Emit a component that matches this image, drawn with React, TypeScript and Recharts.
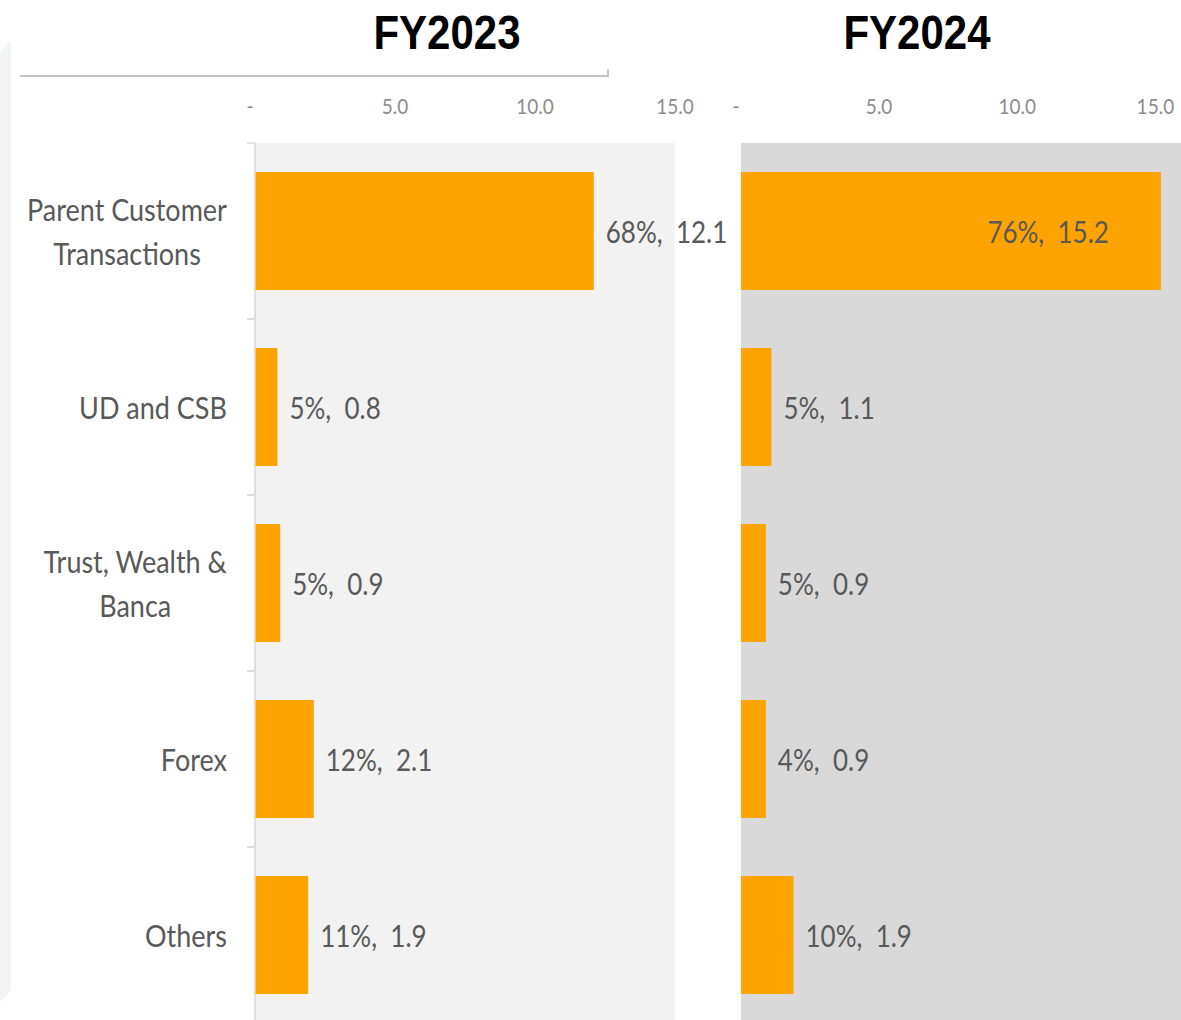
import React from "react";
import { BarChart, Bar, XAxis, YAxis, CartesianGrid, LabelList } from "recharts";

// categories top to bottom, "\n" marks the line break used on the slide
const categories = [
  "Parent Customer\nTransactions",
  "UD and CSB",
  "Trust, Wealth &\nBanca",
  "Forex",
  "Others",
];
const fy2023Values = [12.1, 0.8, 0.9, 2.1, 1.9];
const fy2023Shares = [68, 5, 5, 12, 11];
const fy2024Values = [15.2, 1.1, 0.9, 0.9, 1.9];
const fy2024Shares = [76, 5, 5, 4, 10];
const xTicks = [0, 5, 10, 15];
const titles = ["FY2023", "FY2024"];

const ORANGE = "#ffa300";
const FONT = "Lato, 'Noto Sans', sans-serif";
const STRETCH = 1.15; // the original picture is stretched vertically a bit
const BAND = 176;
const CHART_H = 943;

const buildRows = (values: number[], shares: number[]) =>
  categories.map((name, i) => ({ name, value: values[i], share: shares[i] }));

const rows2023 = buildRows(fy2023Values, fy2023Shares);
const rows2024 = buildRows(fy2024Values, fy2024Shares);

let ctx: CanvasRenderingContext2D | null = null;
function textWidth(s: string, font: string) {
  if (!ctx) ctx = document.createElement("canvas").getContext("2d");
  if (!ctx) return s.length * 13;
  ctx.font = font;
  return ctx.measureText(s).width;
}

const XTick = (props: any) => {
  const { x, payload } = props;
  const v = payload.value;
  return (
    <text
      transform={`translate(${Number(x) + (v === 0 ? -5 : 0)},25) scale(1,${STRETCH})`}
      textAnchor="middle"
      dominantBaseline="central"
      fontFamily={FONT}
      fontSize={19}
      fill="#8c8c8c"
    >
      {v === 0 ? "-" : v.toFixed(1)}
    </text>
  );
};

const YTick = (props: any) => {
  const { y, payload } = props;
  const cy = Number(y);
  const lines = String(payload.value).split("\n");
  const maxW = Math.max(...lines.map((l) => textWidth(l, `27px Lato`)));
  const cx = 227 - maxW / 2;
  const gap = 44;
  const y0 = cy - ((lines.length - 1) * gap) / 2;
  return (
    <g>
      <line x1={247} x2={255} y1={cy - BAND / 2} y2={cy - BAND / 2} stroke="#d9d9d9" strokeWidth={1.5} />
      <line x1={247} x2={255} y1={cy + BAND / 2} y2={cy + BAND / 2} stroke="#d9d9d9" strokeWidth={1.5} />
      {lines.map((l, i) => (
        <text
          key={i}
          transform={`translate(${cx},${y0 + i * gap}) scale(1,${STRETCH})`}
          textAnchor="middle"
          dominantBaseline="central"
          fontFamily={FONT}
          fontSize={27}
          fill="#595959"
        >
          {l}
        </text>
      ))}
    </g>
  );
};

const makeBarLabel = (rows: { value: number; share: number }[], insideFrom: number) => (props: any) => {
  const { x, y, width, height, index } = props;
  const row = rows[index];
  if (!row) return null;
  const inside = row.value >= insideFrom;
  const right = Number(x) + Number(width);
  const tx = inside ? right - 52 : right + 12;
  const ty = Number(y) + Number(height) / 2;
  return (
    <text
      transform={`translate(${tx},${ty}) scale(1,${STRETCH})`}
      textAnchor={inside ? "end" : "start"}
      dominantBaseline="central"
      fontFamily={FONT}
      fontSize={26}
      fill="#595959"
    >
      {`${row.share}%,\u00a0 ${row.value.toFixed(1)}`}
    </text>
  );
};

export default function App() {
  return (
    <div
      style={{
        position: "absolute",
        left: 0,
        top: 0,
        width: 1181,
        height: 1020,
        overflow: "hidden",
        background: "#ffffff",
      }}
    >
      <svg width={1181} height={1020} style={{ position: "absolute", left: 0, top: 0 }}>
        <polygon points="0,52 11,40 11,990 0,1002" fill="#f3f4f4" />
        <polyline points="20,76 608,76 608,69" fill="none" stroke="#c4c4c4" strokeWidth={2} />
        {titles.map((t, i) => (
          <text
            key={t}
            transform={`translate(${i === 0 ? 447 : 917},49) scale(1,${STRETCH})`}
            textAnchor="middle"
            fontFamily="'Liberation Sans', Arial, sans-serif"
            fontWeight="bold"
            fontSize={42}
            fill="#000000"
          >
            {t}
          </text>
        ))}
      </svg>

      <div style={{ position: "absolute", left: 0, top: 80 }}>
        <BarChart
          width={740}
          height={CHART_H}
          data={rows2023}
          layout="vertical"
          margin={{ top: 0, right: 65, bottom: 0, left: 0 }}
        >
          <CartesianGrid fill="#f2f2f2" stroke="none" horizontal={false} vertical={false} />
          <XAxis
            type="number"
            orientation="top"
            domain={[0, 15]}
            ticks={xTicks}
            height={63}
            axisLine={false}
            tickLine={false}
            tick={<XTick />}
          />
          <YAxis
            type="category"
            dataKey="name"
            width={255}
            axisLine={{ stroke: "#d9d9d9", strokeWidth: 1.5 }}
            tickLine={false}
            tick={<YTick />}
            interval={0}
          />
          <Bar dataKey="value" fill={ORANGE} barSize={118} isAnimationActive={false}>
            <LabelList dataKey="value" content={makeBarLabel(rows2023, 99)} />
          </Bar>
        </BarChart>
      </div>

      <div style={{ position: "absolute", left: 721, top: 80 }}>
        <BarChart
          width={462}
          height={CHART_H}
          data={rows2024}
          layout="vertical"
          margin={{ top: 0, right: 0, bottom: 0, left: 20 }}
        >
          <CartesianGrid fill="#d9d9d9" stroke="none" horizontal={false} vertical={false} />
          <XAxis
            type="number"
            orientation="top"
            domain={[0, 16]}
            ticks={xTicks}
            height={63}
            axisLine={false}
            tickLine={false}
            tick={<XTick />}
          />
          <YAxis type="category" dataKey="name" hide width={0} />
          <Bar dataKey="value" fill={ORANGE} barSize={118} isAnimationActive={false}>
            <LabelList dataKey="value" content={makeBarLabel(rows2024, 14)} />
          </Bar>
        </BarChart>
      </div>
    </div>
  );
}
